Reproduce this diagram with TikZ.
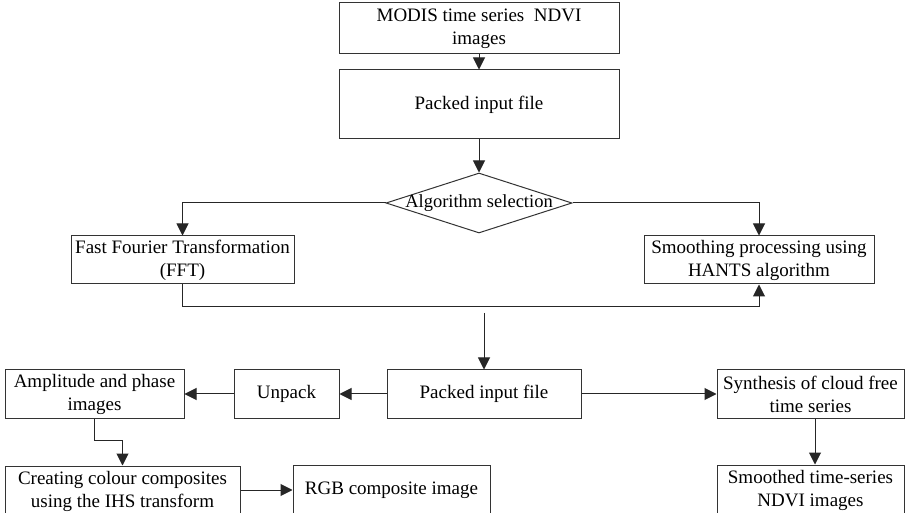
\documentclass[tikz,border=0pt]{standalone}
\usepackage{fontspec}
\setmainfont{Liberation Serif}
\usetikzlibrary{arrows.meta,shapes.geometric,calc}
\begin{document}
\begin{tikzpicture}[x=1pt,y=-1pt,
  line width=1pt,
  box/.style={draw=black!80, rectangle, inner sep=0pt, align=center,
    font=\fontsize{19}{23}\selectfont, text=black},
  arr/.style={-{Triangle[length=12pt,width=12pt]}, draw=black!85}
]
\fill[white] (0,0) rectangle (906,513);
\clip (0,0) rectangle (906,513);

\node[box, minimum width=280, minimum height=51] (modis) at (479,28.5) {MODIS time series~ NDVI\\images};
\node[box, minimum width=280, minimum height=69] (pack1) at (479,104.5) {Packed input file};
\node[diamond, draw=black!80, inner sep=0pt, minimum width=186, minimum height=60,
  label={[font=\fontsize{18.5}{22}\selectfont]center:Algorithm selection}] (alg) at (479,203) {};
\node[box, minimum width=223, minimum height=48] (fft) at (182.5,260) {Fast Fourier Transformation\\(FFT)};
\node[box, minimum width=230, minimum height=48] (hants) at (759,260) {Smoothing processing using\\HANTS algorithm};

\node[box, minimum width=194, minimum height=48] (pack2) at (484,394) {Packed input file};
\node[box, minimum width=105, minimum height=48] (unpack) at (286.5,394) {Unpack};
\node[box, minimum width=179, minimum height=48] (amp) at (94.5,394) {Amplitude and phase\\images};
\node[box, minimum width=187, minimum height=48] (syn) at (810.5,394) {Synthesis of cloud free\\time series};
\node[box, minimum width=187, minimum height=50] (smo) at (810.5,490) {Smoothed time-series\\NDVI images};
\node[box, minimum width=235, minimum height=50] (cre) at (122.5,491) {Creating colour composites\\using the IHS transform};
\node[box, minimum width=197, minimum height=50] (rgb) at (391.5,490) {RGB composite image};

\coordinate (c1) at (484,313);

\draw[arr] (modis) -- (pack1);
\draw[arr] (pack1) -- (alg);
\draw[arr] (alg.west) -| (fft.north);
\draw[arr] (alg.east) -| (hants.north);
\draw[arr] (fft.south) -- ++(0,22) -| (hants.south);
\draw[arr] (c1) -- (pack2.north);
\draw[arr] (pack2.west) -- (unpack.east);
\draw[arr] (unpack.west) -- (amp.east);
\draw[arr] (pack2.east) -- (syn.west);
\draw[arr] ([xshift=4.5pt]syn.south) -- ([xshift=4.5pt]smo.north);
\draw[arr] (amp.south) -- ++(0,22) -| (cre.north);
\draw[arr] (cre.east |- rgb.west) -- (rgb.west);
\end{tikzpicture}
\end{document}
